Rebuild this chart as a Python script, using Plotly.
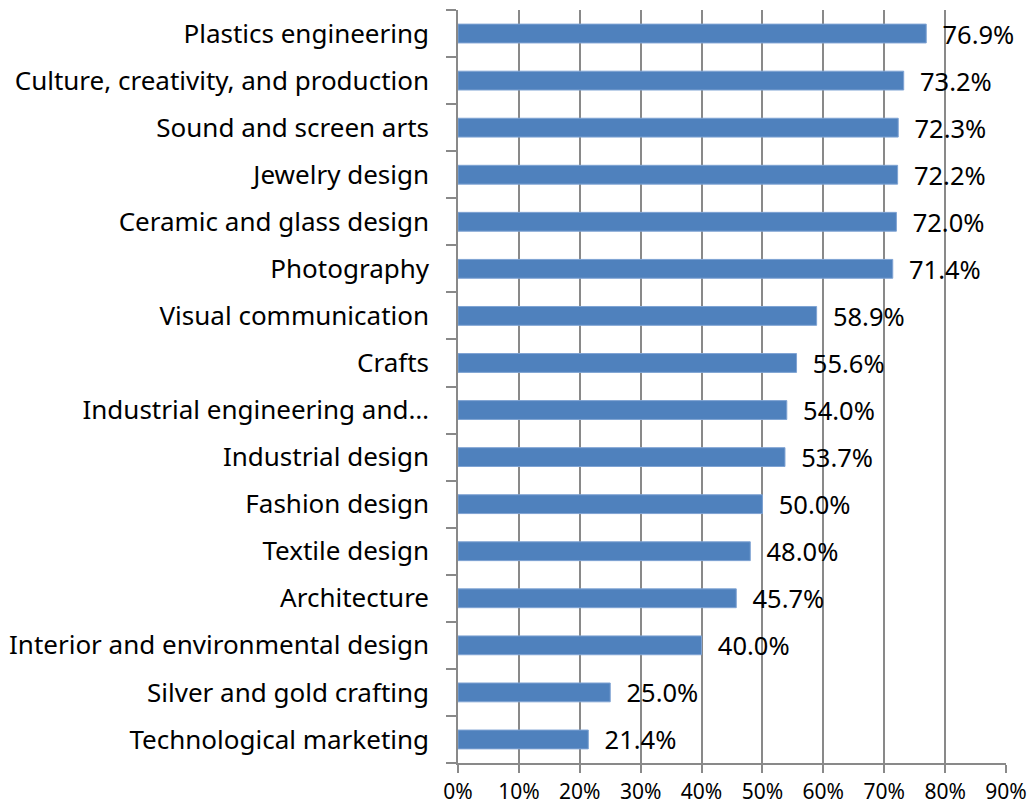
import plotly.graph_objects as go

# Share by programme, listed bottom-to-top as drawn on the category axis
programmes = [
    "Technological marketing",
    "Silver and gold crafting",
    "Interior and environmental design",
    "Architecture",
    "Textile design",
    "Fashion design",
    "Industrial design",
    "Industrial engineering and…",
    "Crafts",
    "Visual communication",
    "Photography",
    "Ceramic and glass design",
    "Jewelry design",
    "Sound and screen arts",
    "Culture, creativity, and production",
    "Plastics engineering",
]
shares = [21.4, 25.0, 40.0, 45.7, 48.0, 50.0, 53.7, 54.0, 55.6, 58.9, 71.4, 72.0, 72.2, 72.3, 73.2, 76.9]
tick_values = [0, 10, 20, 30, 40, 50, 60, 70, 80, 90]
tick_labels = [f"{v}%" for v in tick_values]

FONT = "Noto Sans"
GRID = "#898989"

fig = go.Figure(
    go.Bar(
        x=shares,
        y=programmes,
        orientation="h",
        marker=dict(color="#4F81BD", line=dict(color="#7FA3D3", width=1)),
        text=[f"{v:.1f}%" for v in shares],
        texttemplate="  %{text}",
        textposition="outside",
        constraintext="none",
        textfont=dict(family=FONT, size=25.5, color="#000000"),
        cliponaxis=False,
        width=0.4,
    )
)

fig.update_layout(
    width=1032,
    height=808,
    margin=dict(l=458, r=26, t=10, b=45, autoexpand=False),
    paper_bgcolor="white",
    plot_bgcolor="white",
    showlegend=False,
    font=dict(family=FONT, size=25, color="#000000"),
    xaxis=dict(
        range=[0, 90],
        tickvals=tick_values,
        ticktext=tick_labels,
        automargin=False,
        showgrid=True,
        gridcolor=GRID,
        gridwidth=1.5,
        zeroline=False,
        showline=True,
        linecolor=GRID,
        linewidth=1.5,
        ticks="outside",
        ticklen=8,
        tickcolor=GRID,
        tickwidth=1.5,
        ticklabelstandoff=1,
        tickfont=dict(family=FONT, size=21),
    ),
    yaxis=dict(
        categoryorder="array",
        categoryarray=programmes,
        automargin=False,
        showgrid=False,
        showline=True,
        linecolor=GRID,
        linewidth=1.5,
        ticks="outside",
        tickson="boundaries",
        ticklen=10,
        tickcolor=GRID,
        tickwidth=1.5,
        ticklabelstandoff=22,
        tickfont=dict(family=FONT, size=26),
    ),
)

fig.write_html("out.html")
